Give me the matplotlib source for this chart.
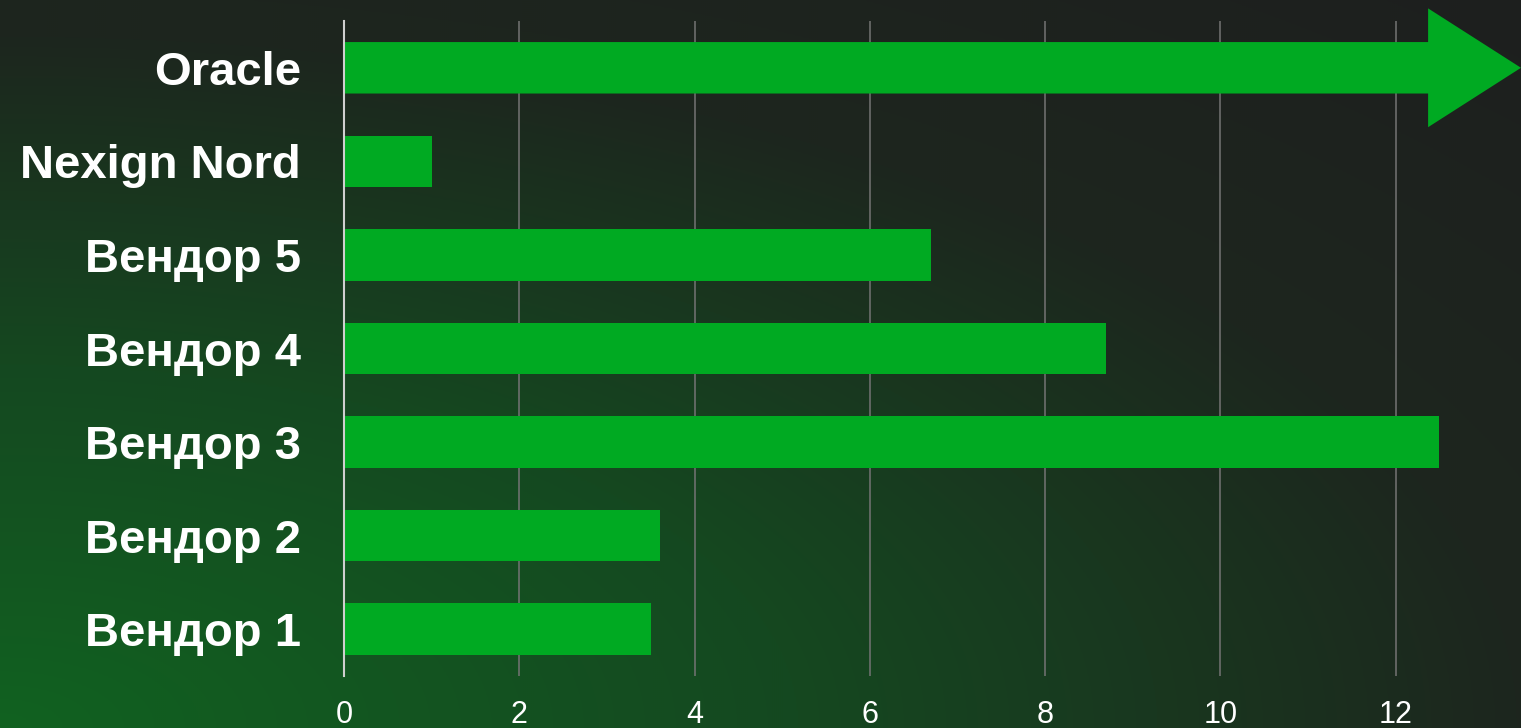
import matplotlib
matplotlib.use("Agg")
import matplotlib.pyplot as plt
import numpy as np

plt.rcParams['font.family'] = ['Liberation Sans', 'DejaVu Sans']

# данные
vendors = ['Вендор 1', 'Вендор 2', 'Вендор 3', 'Вендор 4', 'Вендор 5', 'Nexign Nord', 'Oracle']
values = [3.5, 3.6, 12.5, 8.7, 6.7, 1.0, 13.43]
xticks = [0, 2, 4, 6, 8, 10, 12]

bar_color = '#00aa22'

fig = plt.figure(figsize=(15.21, 7.28), dpi=100)

# фон: градиент от зелёного (низ-лево) к тёмно-серому
bg = fig.add_axes([0, 0, 1, 1], zorder=-10)
h, w = 364, 760
xx, yy = np.meshgrid(np.linspace(0, 1, w), np.linspace(1, 0, h))
r = np.clip(np.sqrt((xx / 1.05) ** 2 + yy ** 2), 0, 1.45)
stops = np.array([0.0, 0.5, 0.95, 1.45])
cols = np.array([[17, 98, 32], [21, 72, 32], [29, 38, 30], [30, 30, 30]]) / 255.0
img = np.zeros((h, w, 3))
for c in range(3):
    img[:, :, c] = np.interp(r, stops, cols[:, c])
bg.imshow(img, aspect='auto', extent=[0, 1, 0, 1])
bg.axis('off')

ax = fig.add_axes([344 / 1521, 52 / 728, 1 - 344 / 1521, 655 / 728])
ax.set_facecolor('none')

y = np.arange(len(vendors))
# все, кроме Oracle — обычные столбцы
ax.barh(y[:-1], values[:-1], height=0.55, color=bar_color, zorder=3)
# Oracle — стрелка за край шкалы
ax.arrow(0, y[-1], values[-1], 0, width=0.55, head_width=1.27, head_length=1.06,
         length_includes_head=True, color=bar_color, lw=0, zorder=3, clip_on=False)

ax.set_xlim(0, 13.43)
ax.set_ylim(-0.5, len(vendors) - 0.5)
ax.set_xticks(xticks)
ax.set_yticks(y)
ax.set_yticklabels(vendors)

ax.grid(axis='x', color='#747474', linewidth=1.1, zorder=1)
ax.grid(axis='y', visible=False)
for s in ['top', 'right', 'bottom']:
    ax.spines[s].set_visible(False)
ax.spines['left'].set_color('#cfcfcf')
ax.spines['left'].set_linewidth(1.5)
ax.spines['left'].set_zorder(4)

ax.tick_params(axis='x', length=0, pad=17, labelsize=22, labelcolor='white')
ax.tick_params(axis='y', length=0, pad=31, labelsize=34, labelcolor='white')
for t in ax.get_yticklabels():
    t.set_fontweight('bold')

fig.savefig('out.png', dpi=100)
